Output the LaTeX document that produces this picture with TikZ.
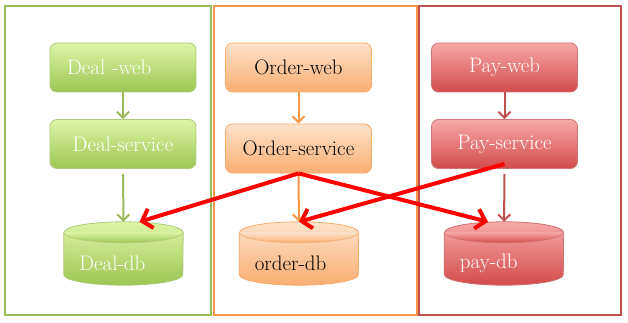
\documentclass[tikz,border=0pt]{standalone}
\usepackage{fontspec}
\usetikzlibrary{arrows.meta}

\definecolor{dealline}{HTML}{9BBB59}
\definecolor{dealtop}{HTML}{DDF5A6}
\definecolor{dealbot}{HTML}{9CC653}
\definecolor{orderline}{HTML}{F79646}
\definecolor{ordertop}{HTML}{FDE2CA}
\definecolor{orderbot}{HTML}{F9AE72}
\definecolor{payline}{HTML}{C0504D}
\definecolor{paytop}{HTML}{F8A8A8}
\definecolor{paybot}{HTML}{D24B4B}

% can outline round a db box: #1 node name, #2 fill style
\newcommand{\dbcan}[2]{%
  \draw[#2, line width=0.8pt]
    ([yshift=-10.5pt]#1.north west) -- ([yshift=10.5pt]#1.south west)
    arc[start angle=180, end angle=360, x radius=59.5pt, y radius=10.5pt]
    -- ([yshift=-10.5pt]#1.north east)
    arc[start angle=0, end angle=180, x radius=59.5pt, y radius=10.5pt] -- cycle;
  \draw[#2, fill=none, line width=0.6pt]
    ([yshift=-10.5pt]#1.north west)
    arc[start angle=180, end angle=360, x radius=59.5pt, y radius=10.5pt];
}

\begin{document}
\begin{tikzpicture}[x=1pt, y=-1pt]
  \tikzset{
  svc/.style={rounded corners=7pt, minimum width=146pt, minimum height=49pt,
    line width=0.8pt, font=\fontsize{21}{23}\selectfont},
  dbbox/.style={minimum width=119pt, minimum height=63pt, inner sep=0pt},
  dealfill/.style={draw=dealline!80, top color=dealtop, bottom color=dealbot, text=white},
  orderfill/.style={draw=orderline!80, top color=ordertop, bottom color=orderbot, text=black},
  payfill/.style={draw=payline!80, top color=paytop, bottom color=paybot, text=white},
  flow/.style={line width=2pt, -{Straight Barb[length=6pt,width=12pt]}},
  cross/.style={red, line width=4pt, -{Straight Barb[length=9pt,width=20pt]}},
  dblabel/.style={anchor=west, xshift=12pt, yshift=-10pt, font=\fontsize{21}{23}\selectfont},
  }

  \useasboundingbox (0,0) rectangle (628,323);

  % frames
  \draw[dealline, line width=2pt] (5,6) rectangle (211,315);
  \draw[orderline, line width=2pt] (214,6) rectangle (417,315);
  \draw[payline, line width=2pt] (419,6) rectangle (621,315);

  % deal
  \node[svc, dealfill, text width=112pt, align=left] (dealweb) at (123,67.5) {Deal -web};
  \node[svc, dealfill] (dealservice) at (123,144) {Deal-service};
  \node[dbbox] (dealdb) at (123.5,253.5) {};
  \dbcan{dealdb}{dealfill}
  \node[dblabel, text=white] (dealdbtext) at (dealdb.west) {Deal-db};

  % order
  \node[svc, orderfill] (orderweb) at (298.5,67.5) {Order-web};
  \node[svc, orderfill] (orderservice) at (298.5,148.5) {Order-service};
  \node[dbbox] (orderdb) at (299,253.5) {};
  \dbcan{orderdb}{orderfill}
  \node[dblabel] (orderdbtext) at (orderdb.west) {order-db};

  % pay
  \node[svc, payfill] (payweb) at (504.5,67.5) {Pay-web};
  \node[svc, payfill] (payservice) at (504.5,144) {Pay-service};
  \node[dbbox] (paydb) at (504,253.5) {};
  \dbcan{paydb}{payfill}
  \node[dblabel, text=white] (paydbtext) at (paydb.west) {pay-db};

  % calls inside each domain
  \draw[flow, dealline] (dealweb) -- (dealservice);
  \draw[flow, dealline, shorten <=5pt] (dealservice) -- (dealdb);
  \draw[flow, orderline] (orderweb) -- (orderservice);
  \draw[flow, orderline] (orderservice) -- (orderdb);
  \draw[flow, payline] (payweb) -- (payservice);
  \draw[flow, payline, shorten <=5pt] (payservice) -- (paydb);

  % calls across domains
  \draw[cross] (orderservice.south) -- ([xshift=16pt]dealdb.north);
  \draw[cross] (orderservice.south) -- ([xshift=-16pt]paydb.north);
  \draw[cross] ([yshift=5pt]payservice.south) -- (orderdb.north);
\end{tikzpicture}
\end{document}
